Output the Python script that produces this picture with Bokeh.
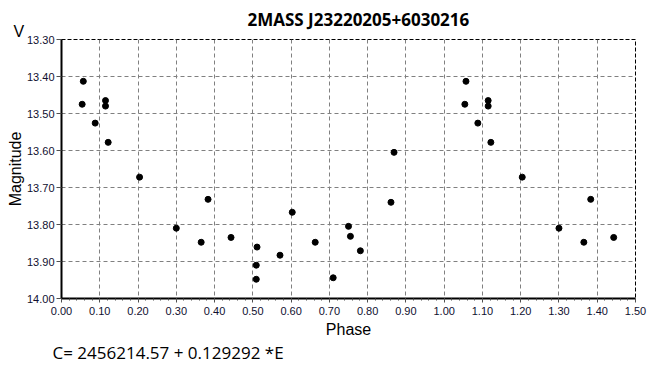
from bokeh.plotting import figure
from bokeh.models import Range1d, FixedTicker, PrintfTickFormatter, Title, ColumnDataSource
from bokeh.embed import file_html
from bokeh.resources import INLINE

title_text = "2MASS J23220205+6030216"
ephemeris = "C= 2456214.57 + 0.129292 *E"
x_label = "Phase"
y_label = "Magnitude"
band = "V"

phase = [0.054, 0.057, 0.088, 0.115, 0.115, 0.122, 0.204, 0.300, 0.365, 0.383,
         0.443, 0.509, 0.509, 0.511, 0.571, 0.603, 0.663, 0.710, 0.750, 0.755,
         0.781, 0.861, 0.869]
mag = [13.475, 13.413, 13.526, 13.465, 13.480, 13.578, 13.672, 13.810, 13.848, 13.732,
       13.835, 13.910, 13.948, 13.861, 13.883, 13.767, 13.848, 13.944, 13.805, 13.832,
       13.871, 13.740, 13.605]

# phased light curve shown over 1.5 cycles
px = phase + [p + 1 for p in phase if p + 1 <= 1.5]
py = mag + [m for p, m in zip(phase, mag) if p + 1 <= 1.5]

x_ticks = [round(i * 0.1, 2) for i in range(16)]
y_ticks = [round(13.3 + i * 0.1, 2) for i in range(8)]
x_minor = [round(i * 0.02, 2) for i in range(76)]

W, H = 652, 363
p = figure(width=W, height=H, output_backend="svg", toolbar_location=None,
           x_range=Range1d(0, 1.5), y_range=Range1d(14.0, 13.3),
           min_border_left=61, min_border_right=17, min_border_top=39, min_border_bottom=65)
p.background_fill_color = "white"
p.border_fill_color = "white"
p.outline_line_color = "black"
p.outline_line_dash = "4 2"
p.outline_line_width = 1

for ax in (p.xaxis[0], p.yaxis[0]):
    ax.axis_line_width = 2
    ax.axis_line_color = "black"
    ax.major_tick_in = 0
    ax.major_tick_line_color = "#505050"
    ax.major_label_text_font = "Liberation Sans"
    ax.major_label_text_font_size = "11px"
    ax.major_label_text_color = "#101030"
    ax.formatter = PrintfTickFormatter(format="%.2f")
    ax.axis_label_text_font = "Liberation Sans"
    ax.axis_label_text_font_size = "16px"
    ax.axis_label_text_font_style = "normal"
    ax.axis_label_text_color = "black"

p.xaxis[0].ticker = FixedTicker(ticks=x_ticks, minor_ticks=x_minor)
p.xaxis[0].major_tick_out = 4
p.xaxis[0].minor_tick_in = 0
p.xaxis[0].minor_tick_out = 2
p.xaxis[0].minor_tick_line_color = "#505050"
p.xaxis[0].major_label_standoff = 4
p.xaxis[0].axis_label = x_label
p.xaxis[0].axis_label_standoff = 3

p.yaxis[0].ticker = FixedTicker(ticks=y_ticks)
p.yaxis[0].major_tick_out = 5
p.yaxis[0].minor_tick_line_color = None
p.yaxis[0].major_label_standoff = 2
p.yaxis[0].axis_label = y_label
p.yaxis[0].axis_label_standoff = 0

for g in (p.xgrid[0], p.ygrid[0]):
    g.grid_line_color = "#808080"
    g.grid_line_dash = "4 3"
    g.grid_line_width = 1

src = ColumnDataSource(dict(x=px, y=py))
p.scatter("x", "y", source=src, marker="circle", size=6, color="black")

p.title.text = title_text
p.title.align = "left"
p.title.offset = 186
p.title.text_font = "Open Sans"
p.title.text_font_size = "17px"
p.title.text_font_style = "bold"
p.title.text_color = "black"
p.title.standoff = -21

p.add_layout(Title(text=band, align="left", offset=-48, text_font="Liberation Sans",
                   text_font_size="16px", text_font_style="normal", text_color="black",
                   standoff=0), "above")
p.add_layout(Title(text=ephemeris, align="left", offset=-9, text_font="Open Sans",
                   text_font_size="17px", text_font_style="normal", text_color="black",
                   standoff=-4), "below")

open("out.html", "w").write(file_html(p, INLINE))
